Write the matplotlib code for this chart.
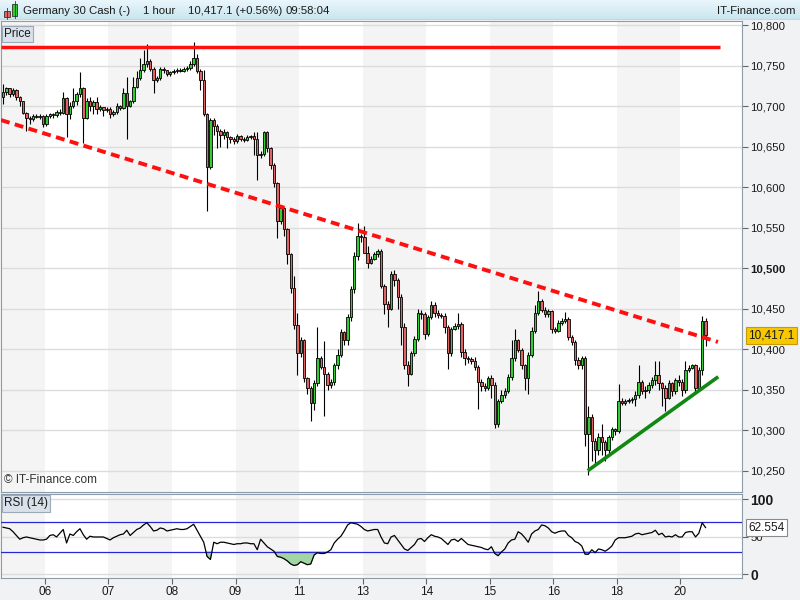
import matplotlib
matplotlib.use('Agg')
import matplotlib.pyplot as plt
import numpy as np
from matplotlib.patches import Rectangle
from matplotlib.ticker import FuncFormatter, FixedLocator

plt.rcParams['font.family'] = ['Liberation Sans', 'DejaVu Sans']

# hourly bars, Germany 30 cash (open of each bar = previous close)
first_open = 10712
closes = [
    10718, 10722, 10715, 10720, 10712, 10706, 10692, 10686, 10684, 10688, 10687, 10688, 10678,
    10688, 10690, 10689, 10693, 10692, 10710, 10690, 10700, 10706, 10715, 10722, 10686, 10707, 10700, 10705, 10697, 10699, 10695, 10697,
    10690, 10693, 10700, 10698, 10716, 10700, 10706, 10724, 10735, 10745, 10752, 10756, 10746, 10733, 10735, 10746, 10745, 10740, 10742,
    10743, 10745, 10744, 10746, 10747, 10752, 10760, 10744, 10733, 10690, 10625, 10683, 10676, 10670, 10664, 10668, 10662, 10660, 10657,
    10663, 10660, 10658, 10662, 10663, 10660, 10640, 10641, 10668, 10648, 10628, 10605, 10558, 10574, 10548, 10517, 10476, 10430, 10395,
    10411, 10364, 10352, 10333, 10358, 10389, 10378, 10370, 10356, 10360, 10380, 10393, 10421, 10411, 10440, 10474, 10515, 10540, 10538,
    10519, 10507, 10512, 10517, 10521, 10478, 10456, 10450, 10493, 10485, 10464, 10428, 10380, 10370, 10395, 10413, 10445, 10443, 10419,
    10440, 10455, 10445, 10442, 10441, 10427, 10395, 10425, 10429, 10431, 10397, 10389, 10388, 10386, 10378, 10360, 10354, 10352, 10364,
    10356, 10308, 10336, 10344, 10348, 10366, 10389, 10411, 10399, 10380, 10364, 10393, 10423, 10445, 10459, 10449, 10443, 10447, 10425,
    10423, 10433, 10435, 10437, 10415, 10409, 10387, 10380, 10389, 10295, 10316, 10287, 10275, 10291, 10285, 10275, 10291, 10301, 10299,
    10336, 10334, 10336, 10337, 10338, 10344, 10360, 10348, 10350, 10356, 10362, 10368, 10358, 10352, 10340, 10358, 10348, 10362, 10360,
    10350, 10374, 10377, 10380, 10352, 10374, 10435, 10417.1,
]
highs = [
    10728, 10724, 10723, 10722, 10721, 10713, 10707, 10693, 10688, 10690, 10690, 10690, 10689,
    10690, 10692, 10692, 10696, 10697, 10718, 10712, 10705, 10722, 10718, 10742, 10724, 10710, 10712, 10708, 10712, 10702, 10698, 10699,
    10699, 10696, 10704, 10702, 10722, 10736, 10708, 10736, 10744, 10760, 10769, 10777, 10758, 10748, 10738, 10748, 10748, 10745, 10744,
    10746, 10747, 10747, 10748, 10750, 10756, 10779, 10764, 10746, 10745, 10692, 10686, 10686, 10678, 10672, 10672, 10670, 10663, 10662,
    10666, 10665, 10662, 10665, 10665, 10668, 10668, 10645, 10670, 10670, 10650, 10630, 10607, 10578, 10576, 10550, 10519, 10490, 10445,
    10415, 10413, 10366, 10355, 10362, 10427, 10392, 10410, 10372, 10363, 10383, 10400, 10425, 10423, 10443, 10478, 10520, 10556, 10542,
    10552, 10528, 10515, 10520, 10524, 10524, 10480, 10460, 10497, 10498, 10488, 10468, 10432, 10385, 10398, 10416, 10450, 10448, 10446,
    10442, 10460, 10458, 10448, 10445, 10445, 10430, 10428, 10432, 10445, 10434, 10400, 10392, 10390, 10390, 10380, 10363, 10358, 10367,
    10368, 10360, 10338, 10350, 10352, 10370, 10412, 10425, 10413, 10402, 10382, 10396, 10428, 10454, 10472, 10462, 10452, 10450, 10449,
    10428, 10436, 10438, 10446, 10440, 10418, 10411, 10390, 10392, 10392, 10330, 10320, 10290, 10296, 10308, 10288, 10294, 10304, 10303,
    10357, 10340, 10339, 10340, 10341, 10348, 10380, 10362, 10354, 10360, 10366, 10386, 10386, 10360, 10356, 10362, 10360, 10365, 10368,
    10363, 10386, 10380, 10382, 10382, 10378, 10441, 10438,
]
lows = [
    10703, 10714, 10712, 10713, 10708, 10700, 10690, 10670, 10678, 10682, 10685, 10684, 10674,
    10676, 10686, 10686, 10687, 10689, 10690, 10662, 10684, 10698, 10702, 10712, 10655, 10684, 10694, 10690, 10690, 10694, 10688, 10693,
    10686, 10688, 10691, 10696, 10697, 10660, 10699, 10704, 10722, 10732, 10742, 10748, 10744, 10716, 10730, 10733, 10741, 10738, 10738,
    10740, 10741, 10742, 10742, 10744, 10745, 10750, 10741, 10720, 10688, 10571, 10622, 10665, 10648, 10650, 10660, 10649, 10655, 10654,
    10655, 10657, 10656, 10657, 10660, 10640, 10609, 10636, 10638, 10644, 10622, 10600, 10537, 10555, 10540, 10505, 10470, 10425, 10368,
    10390, 10360, 10345, 10311, 10325, 10355, 10375, 10318, 10350, 10352, 10356, 10375, 10390, 10405, 10405, 10435, 10470, 10510, 10533,
    10530, 10500, 10505, 10510, 10514, 10475, 10444, 10428, 10448, 10478, 10450, 10405, 10376, 10354, 10368, 10392, 10410, 10437, 10413,
    10416, 10437, 10440, 10438, 10438, 10420, 10376, 10392, 10424, 10425, 10390, 10380, 10383, 10382, 10374, 10326, 10349, 10348, 10350,
    10340, 10303, 10304, 10333, 10340, 10346, 10362, 10386, 10396, 10376, 10350, 10345, 10390, 10420, 10442, 10446, 10440, 10440, 10420,
    10420, 10421, 10430, 10433, 10412, 10405, 10380, 10375, 10376, 10280, 10245, 10262, 10258, 10270, 10270, 10262, 10272, 10288, 10294,
    10296, 10331, 10331, 10333, 10334, 10330, 10340, 10345, 10340, 10346, 10352, 10356, 10350, 10330, 10324, 10338, 10342, 10345, 10354,
    10342, 10346, 10372, 10376, 10345, 10348, 10368, 10404,
]
rsi = [
    63, 62, 61, 57, 52, 47, 49, 50, 49, 48, 47, 46, 46,
    47, 52, 53, 50, 55, 60, 42, 54, 52, 57, 61, 53, 47, 51, 50, 50, 50, 50, 48,
    46, 49, 51, 53, 54, 59, 52, 56, 60, 62, 66, 69, 64, 58, 59, 62, 61, 58, 59,
    60, 61, 60, 60, 61, 64, 67, 59, 51, 43, 24, 20, 43, 41, 43, 43, 42, 41, 40,
    41, 41, 42, 42, 41, 41, 33, 47, 42, 37, 34, 31, 24, 23, 21, 18, 14, 12, 13,
    17, 15, 13, 14, 26, 29, 28, 28, 30, 33, 42, 47, 51, 58, 66, 69, 68, 67, 64,
    60, 58, 59, 60, 60, 50, 42, 41, 50, 52, 46, 40, 34, 32, 36, 40, 47, 48, 44,
    49, 53, 51, 50, 48, 44, 40, 46, 47, 44, 48, 44, 40, 39, 38, 37, 36, 34, 33,
    37, 28, 25, 30, 34, 42, 46, 47, 57, 54, 49, 43, 54, 58, 60, 66, 65, 62, 57,
    55, 57, 58, 58, 52, 49, 44, 42, 38, 27, 27, 33, 29, 34, 33, 31, 34, 38, 46,
    49, 49, 49, 50, 51, 54, 55, 53, 54, 55, 56, 59, 53, 55, 50, 51, 50, 53, 50,
    50, 56, 57, 57, 50, 55, 69, 62.554,
]

day_labels = ['06', '07', '08', '09', '11', '13', '14', '15', '16', '18', '20']
day_start_bars = [13, 32, 51, 70, 89, 108, 127, 146, 165, 184, 203]

# drawn lines: (bar position, price)
resistance_line = [(-0.6, 10773), (214.3, 10773)]
falling_line = [(-0.6, 10683), (213.7, 10409)]
rising_line = [(174.8, 10250), (213.8, 10366)]
price_ticks = list(range(10250, 10801, 50))
rsi_levels = [30, 70]

UP = '#33cc33'
DOWN = '#e06464'
SHADE = '#f4f4f4'
GRID = '#dcdcdc'
EDGE = '#8d9cab'
TXT = '#1a1a1a'

opens = [first_open] + closes[:-1]
x = np.arange(len(closes))
xlim = (-0.6, 220.9)

fig = plt.figure(figsize=(8, 6), dpi=100)
fig.patch.set_facecolor('#f1f2f4')

# title bar
bar_ax = fig.add_axes([0, 580 / 600, 1, 20 / 600])
grad = np.linspace(0, 1, 50).reshape(-1, 1)
bar_ax.imshow(grad, aspect='auto', cmap=matplotlib.colors.LinearSegmentedColormap.from_list(
    'tb', ['#e9f7fc', '#c9e4ee']), extent=[0, 800, 0, 20], origin='upper')
bar_ax.set_xlim(0, 800)
bar_ax.set_ylim(0, 20)
bar_ax.axis('off')
bar_ax.plot([6.5, 6.5], [1, 12], color='#333333', lw=0.6)
bar_ax.add_patch(Rectangle((3.5, 3), 6, 6, facecolor=DOWN, edgecolor='#333333', lw=0.6))
bar_ax.plot([14.5, 14.5], [2, 19], color='#333333', lw=0.6)
bar_ax.add_patch(Rectangle((12, 4), 5, 12, facecolor=UP, edgecolor='#333333', lw=0.6))
for xp, s in [(23, 'Germany 30 Cash (-)'), (143, '1 hour'), (188, '10,417.1 (+0.56%)'), (285, '09:58:04')]:
    bar_ax.text(xp, 9.5, s, fontsize=8.2, color=TXT, va='center', ha='left')
bar_ax.text(796, 9.5, 'IT-Finance.com', fontsize=8.2, color=TXT, va='center', ha='right')
bar_ax.axhline(0.3, color='#9aa8b4', lw=1)

# price panel
ax = fig.add_axes([1 / 800, 108 / 600, 741 / 800, 471 / 600])
ax.set_facecolor('white')
for k, s in enumerate([-0.6] + [d - 0.5 for d in day_start_bars]):
    e = day_start_bars[k] - 0.5 if k < len(day_start_bars) else xlim[1]
    if k % 2 == 0:
        ax.axvspan(s, e, color=SHADE, lw=0, zorder=0)
for p in price_ticks:
    ax.axhline(p, color=GRID, lw=1, zorder=1)

body_lo = np.minimum(opens, closes)
body_hi = np.maximum(opens, closes)
colors = [UP if c >= o else DOWN for o, c in zip(opens, closes)]
ax.vlines(x, lows, highs, color='black', lw=0.8, zorder=3)
ax.bar(x, np.maximum(body_hi - body_lo, 0.6), bottom=body_lo, width=0.72,
       color=colors, edgecolor='black', linewidth=0.6, zorder=4)

ax.plot(*zip(*resistance_line), color='#ff1010', lw=2.5, solid_capstyle='butt', zorder=5)
ax.plot(*zip(*falling_line), color='#ff1010', lw=2.8, linestyle=(0, (2.3, 1.4)), zorder=5)
ax.plot(*zip(*rising_line), color='#118811', lw=2.6, solid_capstyle='butt', zorder=5)

ax.set_xlim(*xlim)
ax.set_ylim(10223.7, 10805.3)
ax.yaxis.tick_right()
ax.yaxis.set_major_locator(FixedLocator(price_ticks))
ax.yaxis.set_major_formatter(FuncFormatter(lambda v, p: f'{v:,.0f}'))
ax.tick_params(axis='y', length=4, color='#666666', labelsize=8.2, labelcolor=TXT, pad=2)
ax.set_xticks([])
for lab in ax.get_yticklabels():
    if lab.get_text() == '10,500':
        lab.set_fontweight('bold')
for sp in ax.spines.values():
    sp.set_color(EDGE)

ax.text(0.004, 0.985, 'Price', transform=ax.transAxes, fontsize=8.5, color=TXT, va='top', ha='left',
        bbox=dict(boxstyle='square,pad=0.2', facecolor='#d9e2ea', edgecolor='#9aaab8', lw=0.8))
ax.text(0.004, 0.012, '\u00a9 IT-Finance.com', transform=ax.transAxes, fontsize=8.5, color='#333333',
        va='bottom', ha='left')
ax.annotate(f'{closes[-1]:,.1f}', xy=(1.0, closes[-1]), xycoords=('axes fraction', 'data'),
            xytext=(4.5, 0), textcoords='offset points', fontsize=8.5, color=TXT, va='center', ha='left',
            bbox=dict(boxstyle='square,pad=0.2', facecolor='#f7c800', edgecolor='#c89a00', lw=0.8),
            annotation_clip=False)

# RSI panel
ax2 = fig.add_axes([1 / 800, 22 / 600, 741 / 800, 84 / 600])
ax2.set_facecolor('white')
for k, s in enumerate([-0.6] + [d - 0.5 for d in day_start_bars]):
    e = day_start_bars[k] - 0.5 if k < len(day_start_bars) else xlim[1]
    if k % 2 == 0:
        ax2.axvspan(s, e, color=SHADE, lw=0, zorder=0)
for lv in [0, 50, 100]:
    ax2.axhline(lv, color=GRID, lw=1, zorder=1)
rsi_arr = np.array(rsi, dtype=float)
ax2.fill_between(x, rsi_arr, rsi_levels[0], where=rsi_arr < rsi_levels[0], interpolate=True,
                 facecolor='#a3d4a3', edgecolor='#6aa86a', lw=0.5, zorder=2)
for lv in rsi_levels:
    ax2.axhline(lv, color='#2727d8', lw=0.9, zorder=3)
ax2.plot(x, rsi_arr, color='black', lw=0.9, zorder=4)
ax2.set_xlim(*xlim)
ax2.set_ylim(-4.7, 107.3)
ax2.yaxis.tick_right()
ax2.set_yticks([0, 50, 100])
ax2.set_yticklabels(['0', '50', '100'])
ax2.tick_params(axis='y', length=4, color='#666666', labelsize=8.2, labelcolor=TXT, pad=2)
for lab in ax2.get_yticklabels():
    if lab.get_text() in ('0', '100'):
        lab.set_fontweight('bold')
        lab.set_fontsize(10)
ax2.set_xticks([d - 0.5 for d in day_start_bars])
ax2.set_xticklabels(day_labels)
ax2.tick_params(axis='x', length=4, color='#666666', labelsize=8.5, labelcolor=TXT, pad=2)
for sp in ax2.spines.values():
    sp.set_color(EDGE)
ax2.text(0.004, 0.96, 'RSI (14)', transform=ax2.transAxes, fontsize=8.5, color=TXT, va='top', ha='left',
         bbox=dict(boxstyle='square,pad=0.2', facecolor='#d9e2ea', edgecolor='#9aaab8', lw=0.8))
ax2.annotate(f'{rsi[-1]:.3f}', xy=(1.0, rsi[-1]), xycoords=('axes fraction', 'data'),
             xytext=(4.5, 0), textcoords='offset points', fontsize=8.5, color=TXT, va='center', ha='left',
             bbox=dict(boxstyle='square,pad=0.2', facecolor='white', edgecolor='#8a8a8a', lw=0.8),
             annotation_clip=False, zorder=10)

fig.savefig('out.png', dpi=100, facecolor=fig.get_facecolor())
